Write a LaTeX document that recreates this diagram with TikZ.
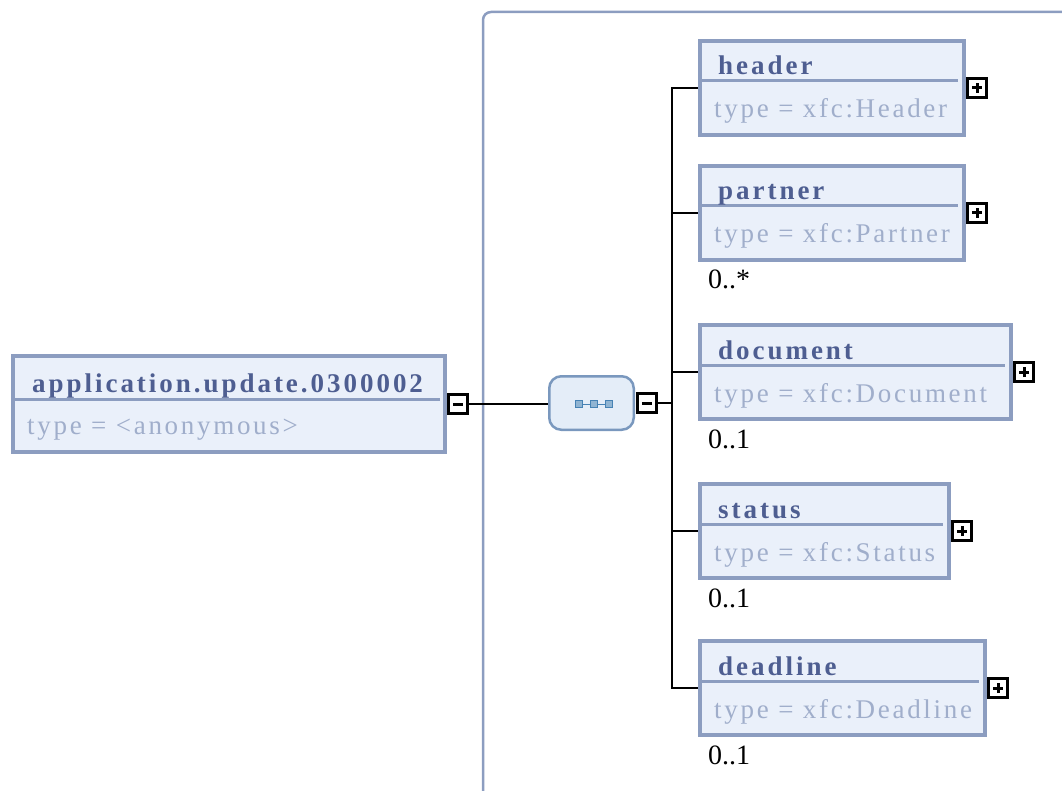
\documentclass[tikz,border=0pt]{standalone}
\usepackage{fontspec}
\setmainfont{Liberation Serif}
\newfontfamily\namefont[LetterSpace=11]{Liberation Serif}
\newfontfamily\typefont[LetterSpace=10]{Liberation Serif}
\usetikzlibrary{calc, positioning}

\definecolor{boxline}{RGB}{140,157,192}
\definecolor{boxfill}{RGB}{234,240,250}
\definecolor{nametext}{RGB}{78,94,145}
\definecolor{typetext}{RGB}{160,174,203}
\definecolor{seqline}{RGB}{122,152,190}
\definecolor{seqfill}{RGB}{228,237,248}
\definecolor{seqdot}{RGB}{70,130,180}

\tikzset{
    elem/.style={draw=boxline, fill=boxfill, line width=4pt, anchor=north west,
        minimum height=94pt, inner sep=0pt, outer sep=0pt},
    divider/.style={boxline, line width=3pt},
    ename/.style={anchor=base west, inner sep=0pt, text=nametext,
        font=\fontsize{27}{30}\namefont\bfseries},
    etype/.style={anchor=base west, inner sep=0pt, text=typetext,
        font=\fontsize{27}{30}\typefont},
    card/.style={anchor=base west, inner sep=0pt, font=\fontsize{28}{30}\selectfont},
    ctrl/.style={draw, fill=white, line width=2.5pt, minimum size=19pt,
        inner sep=0pt, outer sep=0pt, anchor=west},
    minusbox/.style={ctrl, path picture={
        \draw[line width=3pt] ([xshift=-5pt]path picture bounding box.center)
            -- ([xshift=5pt]path picture bounding box.center);}},
    plusbox/.style={ctrl, path picture={
        \draw[line width=3pt] ([xshift=-5pt]path picture bounding box.center)
            -- ([xshift=5pt]path picture bounding box.center);
        \draw[line width=3pt] ([yshift=-5pt]path picture bounding box.center)
            -- ([yshift=5pt]path picture bounding box.center);}},
    seqbox/.style={draw=seqline, fill=seqfill, line width=2.5pt, rounded corners=12pt,
        minimum width=84.5pt, minimum height=53.5pt, outer sep=0pt},
    conn/.style={line width=2.2pt},
    frame/.style={boxline, line width=2.5pt, rounded corners=8pt}
}

\begin{document}
\begin{tikzpicture}[x=1pt, y=-1pt]
    \useasboundingbox (0,0) rectangle (1062,791);

    % content frame
    \draw[frame] (483,791) -- (483,12) -- (1062,12);

    % root element
    \node[elem, minimum width=432pt, minimum height=96pt] (app) at (13,356) {};
    \draw[divider] ($(app.north west)+(2,43)$) -- ($(app.north east)+(-5,43)$);
    \node[ename] (appname) at ($(app.north west)+(19,36)$) {application.update.0300002};
    \node[etype] (apptype) at ($(app.north west)+(14,78)$) {type = <anonymous>};
    \node[minusbox] (appminus) at ($(app.east)+(3.25,0)$) {};

    % sequence
    \node[seqbox] (seq) at (591.5,403) {};
    \draw[seqdot, line width=1pt] ($(seq.center)+(-13,1)$) -- ($(seq.center)+(17,1)$);
    \foreach \dx in {-13,2,17}
    \draw[seqdot, fill=seqdot!60, line width=0.8pt] ($(seq.center)+(\dx-3.5,-2.5)$) rectangle ++(7,7);
    \node[minusbox] (seqminus) at ($(seq.east)+(3.5,0)$) {};

    % child elements
    \node[elem, minimum width=264pt] (hdr) at (700,41) {};
    \node[elem, minimum width=264pt] (prt) at (700,166) {};
    \node[elem, minimum width=311pt] (doc) at (700,325) {};
    \node[elem, minimum width=249pt] (sts) at (700,484) {};
    \node[elem, minimum width=285pt] (ddl) at (700,641) {};

    \foreach \c/\n/\t in {hdr/header/Header, prt/partner/Partner, doc/document/Document,
                          sts/status/Status, ddl/deadline/Deadline} {
        \draw[divider] ($(\c.north west)+(2,40)$) -- ($(\c.north east)+(-6,40)$);
        \node[ename] (\c-name) at ($(\c.north west)+(18,34)$) {\n};
        \node[etype] (\c-type) at ($(\c.north west)+(14,77)$) {type = xfc:\t};
        \node[plusbox] (\c-plus) at ($(\c.east)+(3.5,0)$) {};
    }

    % cardinalities
    \node[card] (prtcard) at ($(prt.south west)+(8,29)$) {0..*};
    \node[card] (doccard) at ($(doc.south west)+(8,29)$) {0..1};
    \node[card] (stscard) at ($(sts.south west)+(8,29)$) {0..1};
    \node[card] (ddlcard) at ($(ddl.south west)+(8,29)$) {0..1};

    % connectors
    \coordinate (fork) at (672,403);
    \draw[conn] (appminus.east) -- ([xshift=-1.25pt]appminus.east -| seq.west);
    \draw[conn] (seqminus.east) -- (fork);
    \draw[conn, line cap=rect] (fork |- hdr.west) -- (fork |- ddl.west);
    \foreach \c in {hdr,prt,doc,sts,ddl}
    \draw[conn] (fork |- \c.west) -- ([xshift=-2pt]\c.west);
\end{tikzpicture}
\end{document}
